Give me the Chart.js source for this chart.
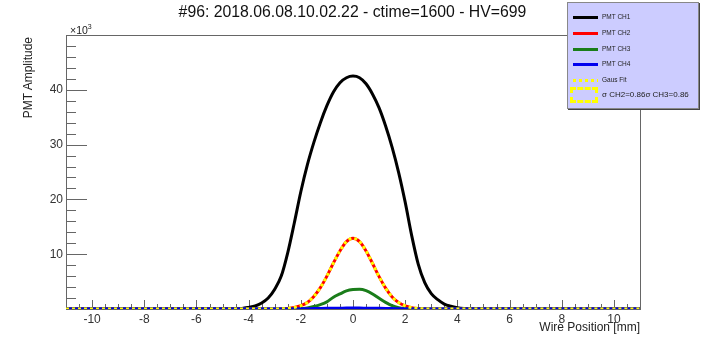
<!DOCTYPE html>
<html>
<head>
<meta charset="utf-8">
<script src="https://cdn.jsdelivr.net/npm/chart.js@4.4.1/dist/chart.umd.min.js"></script>
<style>
html,body{margin:0;padding:0;background:#fff;}
#wrap{position:relative;width:701px;height:337px;overflow:hidden;font-family:"Liberation Sans",Arial,sans-serif;color:#111;}
#chart{position:absolute;left:0;top:0;}
#title{position:absolute;left:0;top:4px;width:705px;text-align:center;font-size:15.8px;line-height:16px;white-space:nowrap;}
#ytitle{position:absolute;left:-22px;top:80px;width:100px;height:14px;line-height:14px;font-size:12px;text-align:right;transform:rotate(-90deg);white-space:nowrap;color:#222;}
#xtitle{position:absolute;left:440px;top:320px;width:200px;line-height:14px;font-size:12px;text-align:right;white-space:nowrap;color:#222;}
#expo{position:absolute;left:70px;top:25px;font-size:10.5px;line-height:10px;color:#222;white-space:nowrap;}
#expo sup{font-size:7px;vertical-align:top;position:relative;top:-3px;}
#legend{position:absolute;left:567px;top:2px;width:130px;height:105px;background:#ccccff;border:1px solid #888;box-shadow:1px 1px 0 #444;}
.row{position:absolute;left:0;width:130px;height:12px;}
.sym{position:absolute;left:5px;width:25px;height:3px;top:5px;}
.lab{position:absolute;left:34px;top:0;font-size:6.5px;line-height:12px;white-space:nowrap;color:#222;}
</style>
</head>
<body>
<div id="wrap">
<canvas id="chart" width="701" height="337"></canvas>
<div id="title">#96: 2018.06.08.10.02.22 - ctime=1600 - HV=699</div>
<div id="ytitle">PMT Amplitude</div>
<div id="xtitle">Wire Position [mm]</div>
<div id="expo">×10<sup>3</sup></div>
<div id="legend"></div>
</div>
<script>

// ================= DATA =================

const seriesNames = ["PMT CH1","PMT CH2","PMT CH3","PMT CH4","Gaus Fit"];
const sigmaText = "σ CH2=0.86σ CH3=0.86";

// wire position [mm]
const xPos = [-11,-4.5,-4.25,-4,-3.75,-3.5,-3.25,-3,-2.75,-2.5,-2.25,-2,-1.75,-1.5,-1.25,-1,-0.75,-0.5,-0.25,0,0.25,0.5,0.75,1,1.25,1.5,1.75,2,2.25,2.5,2.75,3,3.25,3.5,3.75,4,4.25,4.5,11];

// amplitudes (x10^3)
const ch1 = [0,0.05,0.1,0.3,0.55,1.1,2.0,3.6,6.0,10.3,15.7,21.4,26.3,30.4,34.0,37.1,39.6,41.3,42.2,42.5,42.2,41.1,39.2,36.7,33.4,29.5,24.9,19.5,13.4,8.2,4.8,2.8,1.7,0.9,0.5,0.25,0.1,0.03,0];
const ch2 = [0,0,0,0,0,0,0,0.01,0.03,0.1,0.28,0.6,1.2,2.3,3.9,6.0,8.4,10.6,12.3,12.9,12.3,10.6,8.3,5.9,3.8,2.2,1.18,0.57,0.25,0.1,0.03,0.01,0,0,0,0,0,0,0];
const ch3 = [0,0,0,0,0,0,0,0,0,0,0.01,0.05,0.2,0.45,0.8,1.3,2.15,2.75,3.3,3.55,3.6,3.35,2.75,1.95,1.2,0.6,0.25,0.08,0.02,0,0,0,0,0,0,0,0,0,0];
const ch4 = [0,0,0,0,0,0,0,0,0,0,0.01,0.03,0.05,0.08,0.1,0.12,0.14,0.15,0.16,0.16,0.16,0.15,0.14,0.12,0.1,0.08,0.05,0.03,0.01,0,0,0,0,0,0,0,0,0,0];
const fitVals = [0,0,0,0,0,0,0,0.01,0.03,0.1,0.28,0.6,1.2,2.3,3.9,6.0,8.4,10.6,12.3,12.9,12.3,10.6,8.3,5.9,3.8,2.2,1.18,0.57,0.25,0.1,0.03,0.01,0,0,0,0,0,0,0];

const xTickLabels = [-10,-8,-6,-4,-2,0,2,4,6,8,10];
const yTickLabels = [10,20,30,40];

const xMin = -11, xMax = 11, xMajor = 2, xMinor = 0.5;
const yMin = 0, yMax = 50, yMajor = 10, yMinor = 2;

const colors = ["#000000","#ff0000","#1a7d1a","#0000ee","#ffff00"];

// ================= LEGEND =================

const legend = document.getElementById("legend");
const rowTops = [8,24,40,55,71,86];

seriesNames.forEach((name,i)=>{
const row = document.createElement("div");
row.className = "row";
row.style.top = rowTops[i] + "px";
const sym = document.createElement("div");
sym.className = "sym";
if (i === 4) {
sym.style.background = "repeating-linear-gradient(90deg,#ffff00 0 3px,transparent 3px 6px)";
} else {
sym.style.background = colors[i];
}
const lab = document.createElement("div");
lab.className = "lab";
lab.textContent = name;
row.appendChild(sym);
row.appendChild(lab);
legend.appendChild(row);
});

const sRow = document.createElement("div");
sRow.className = "row";
sRow.style.top = rowTops[5] + "px";
sRow.innerHTML = '<div style="position:absolute;left:2px;top:-2px;width:22px;height:10px;border:3px dashed #ffff00;"></div>'
+ '<div class="lab" style="font-size:8px">' + sigmaText + '</div>';
legend.appendChild(sRow);

// ================= CHART =================

function pts(vals){
return xPos.map((x,i)=>({x:x,y:vals[i]}));
}

const frameTicks = {
id:"frameTicks",
beforeDatasetsDraw(chart){
const {ctx, chartArea:a, scales:{x,y}} = chart;
ctx.save();
ctx.strokeStyle = "#666";
ctx.lineWidth = 1;
ctx.strokeRect(a.left+0.5, a.top+0.5, a.right-a.left, a.bottom-a.top);
ctx.beginPath();
for (let v = xMin; v <= xMax + 1e-9; v += xMinor) {
const px = Math.round(x.getPixelForValue(v)) + 0.5;
const major = Math.abs(v/xMajor - Math.round(v/xMajor)) < 1e-6;
ctx.moveTo(px, a.bottom);
ctx.lineTo(px, a.bottom - (major ? 9 : 5));
}
for (let v = yMin; v <= yMax + 1e-9; v += yMinor) {
const py = Math.round(y.getPixelForValue(v)) + 0.5;
const major = Math.abs(v/yMajor - Math.round(v/yMajor)) < 1e-6;
ctx.moveTo(a.left, py);
ctx.lineTo(a.left + (major ? 21 : 10), py);
}
ctx.stroke();
ctx.restore();
}
};

const tickFont = {family:"'Liberation Sans', Arial, sans-serif", size:12};

new Chart(document.getElementById("chart"),{
type:"line",
data:{
datasets:[
{label:seriesNames[0], data:pts(ch1), borderColor:colors[0], borderWidth:3, order:5},
{label:seriesNames[1], data:pts(ch2), borderColor:colors[1], borderWidth:3, order:4},
{label:seriesNames[2], data:pts(ch3), borderColor:colors[2], borderWidth:3, order:3},
{label:seriesNames[3], data:pts(ch4), borderColor:colors[3], borderWidth:3, order:2},
{label:seriesNames[4], data:pts(fitVals), borderColor:colors[4], borderWidth:3, borderDash:[3,3], order:1}
]
},
options:{
responsive:false,
animation:false,
devicePixelRatio:1,
layout:{padding:{left:0,right:61,top:35,bottom:0}},
elements:{
point:{radius:0},
line:{cubicInterpolationMode:"monotone", fill:false}
},
plugins:{
legend:{display:false},
title:{display:false},
tooltip:{enabled:false}
},
scales:{
x:{
type:"linear",
min:xMin,
max:xMax,
grid:{display:false, drawTicks:false},
border:{display:false},
afterFit(scale){ scale.height = 28; },
afterBuildTicks(scale){ scale.ticks = xTickLabels.map(v=>({value:v})); },
ticks:{
autoSkip:false,
maxRotation:0,
padding:3,
color:"#333",
font:tickFont,
callback:v=>String(v)
}
},
y:{
min:yMin,
max:yMax,
grid:{display:false, drawTicks:false},
border:{display:false},
afterFit(scale){ scale.width = 66; },
afterBuildTicks(scale){ scale.ticks = yTickLabels.map(v=>({value:v})); },
ticks:{
padding:3,
color:"#333",
font:tickFont,
callback:v=>String(v)
}
}
}
},
plugins:[frameTicks]
});

</script>
</body>
</html>
